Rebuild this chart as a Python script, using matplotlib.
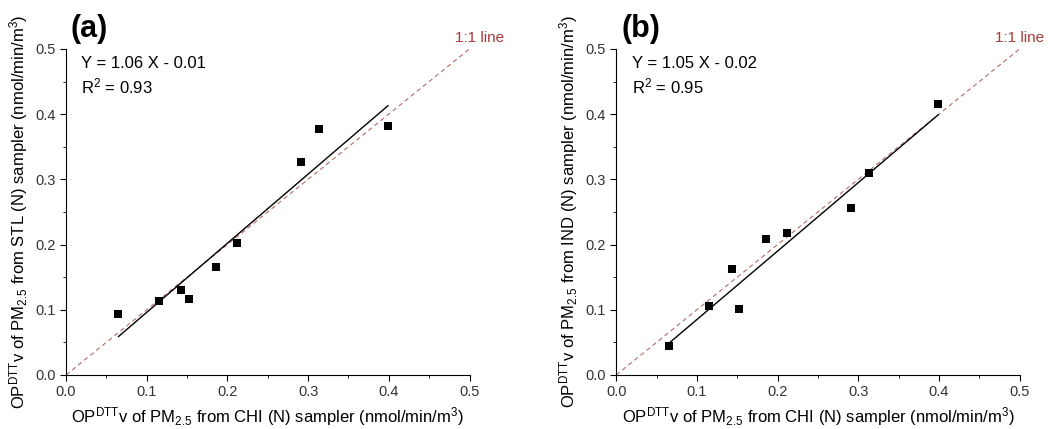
import numpy as np
import matplotlib.pyplot as plt
from matplotlib.ticker import MultipleLocator

plt.rcParams['font.family'] = ['Liberation Sans', 'DejaVu Sans']
plt.rcParams['mathtext.fontset'] = 'custom'
plt.rcParams['mathtext.rm'] = 'Liberation Sans'
plt.rcParams['mathtext.it'] = 'Liberation Sans'

# OP-DTTv values (nmol/min/m3)
chi = [0.065, 0.115, 0.143, 0.152, 0.186, 0.212, 0.291, 0.313, 0.399]
stl = [0.093, 0.114, 0.131, 0.116, 0.166, 0.202, 0.326, 0.377, 0.382]
ind = [0.045, 0.106, 0.162, 0.101, 0.208, 0.218, 0.256, 0.310, 0.416]

panels = ['(a)', '(b)']
sites = ['STL', 'IND']
slopes = [1.06, 1.05]
intercepts = [-0.01, -0.02]
r2 = [0.93, 0.95]

fig = plt.figure(figsize=(10.48, 4.29), dpi=100)
lefts = [0.063, 0.588]
oneone_x = [0.482, 0.470]
w, h, bottom = 0.385, 0.760, 0.126

for i, yvals in enumerate([stl, ind]):
    ax = fig.add_axes([lefts[i], bottom, w, h])
    x = np.array(chi)

    # 1:1 reference
    ax.plot([0, 0.5], [0, 0.5], ls=(0, (4, 3)), color='#b36b6b', lw=0.8, zorder=1)
    # fitted line over the data range
    xf = np.array([x.min(), x.max()])
    ax.plot(xf, slopes[i] * xf + intercepts[i], color='black', lw=1.0, zorder=2)
    ax.scatter(x, yvals, marker='s', s=36, color='black', zorder=3, linewidths=0)

    ax.set_xlim(0, 0.5)
    ax.set_ylim(0, 0.5)
    ax.xaxis.set_major_locator(MultipleLocator(0.1))
    ax.yaxis.set_major_locator(MultipleLocator(0.1))
    ax.xaxis.set_minor_locator(MultipleLocator(0.05))
    ax.yaxis.set_minor_locator(MultipleLocator(0.05))
    ax.xaxis.set_major_formatter(plt.FormatStrFormatter('%.1f'))
    ax.yaxis.set_major_formatter(plt.FormatStrFormatter('%.1f'))
    ax.tick_params(which='major', direction='out', length=4, width=0.8,
                   labelsize=10.5, labelcolor='#333333')
    ax.tick_params(which='minor', direction='out', length=2, width=0.6)
    for s in ['top', 'right']:
        ax.spines[s].set_visible(False)

    ax.set_xlabel(r'OP$^{\mathrm{DTT}}$v of PM$_{2.5}$ from CHI (N) sampler (nmol/min/m$^{3}$)',
                  fontsize=12, labelpad=4)
    ax.set_ylabel(r'OP$^{\mathrm{DTT}}$v of PM$_{2.5}$ from ' + sites[i] +
                  r' (N) sampler (nmol/min/m$^{3}$)', fontsize=12, labelpad=4)

    ax.text(0.006, 0.507, panels[i], fontsize=22, fontweight='bold',
            ha='left', va='bottom', clip_on=False)
    ax.text(0.019, 0.478, 'Y = %.2f X - %.2f' % (slopes[i], -intercepts[i]),
            fontsize=12, va='center')
    ax.text(0.019, 0.443, r'R$^{2}$ = %.2f' % r2[i], fontsize=12, va='center')
    ax.text(oneone_x[i], 0.517, '1:1 line', color='#a83a3a', fontsize=11,
            ha='left', va='center', clip_on=False)

fig.savefig('out.png', dpi=100)
